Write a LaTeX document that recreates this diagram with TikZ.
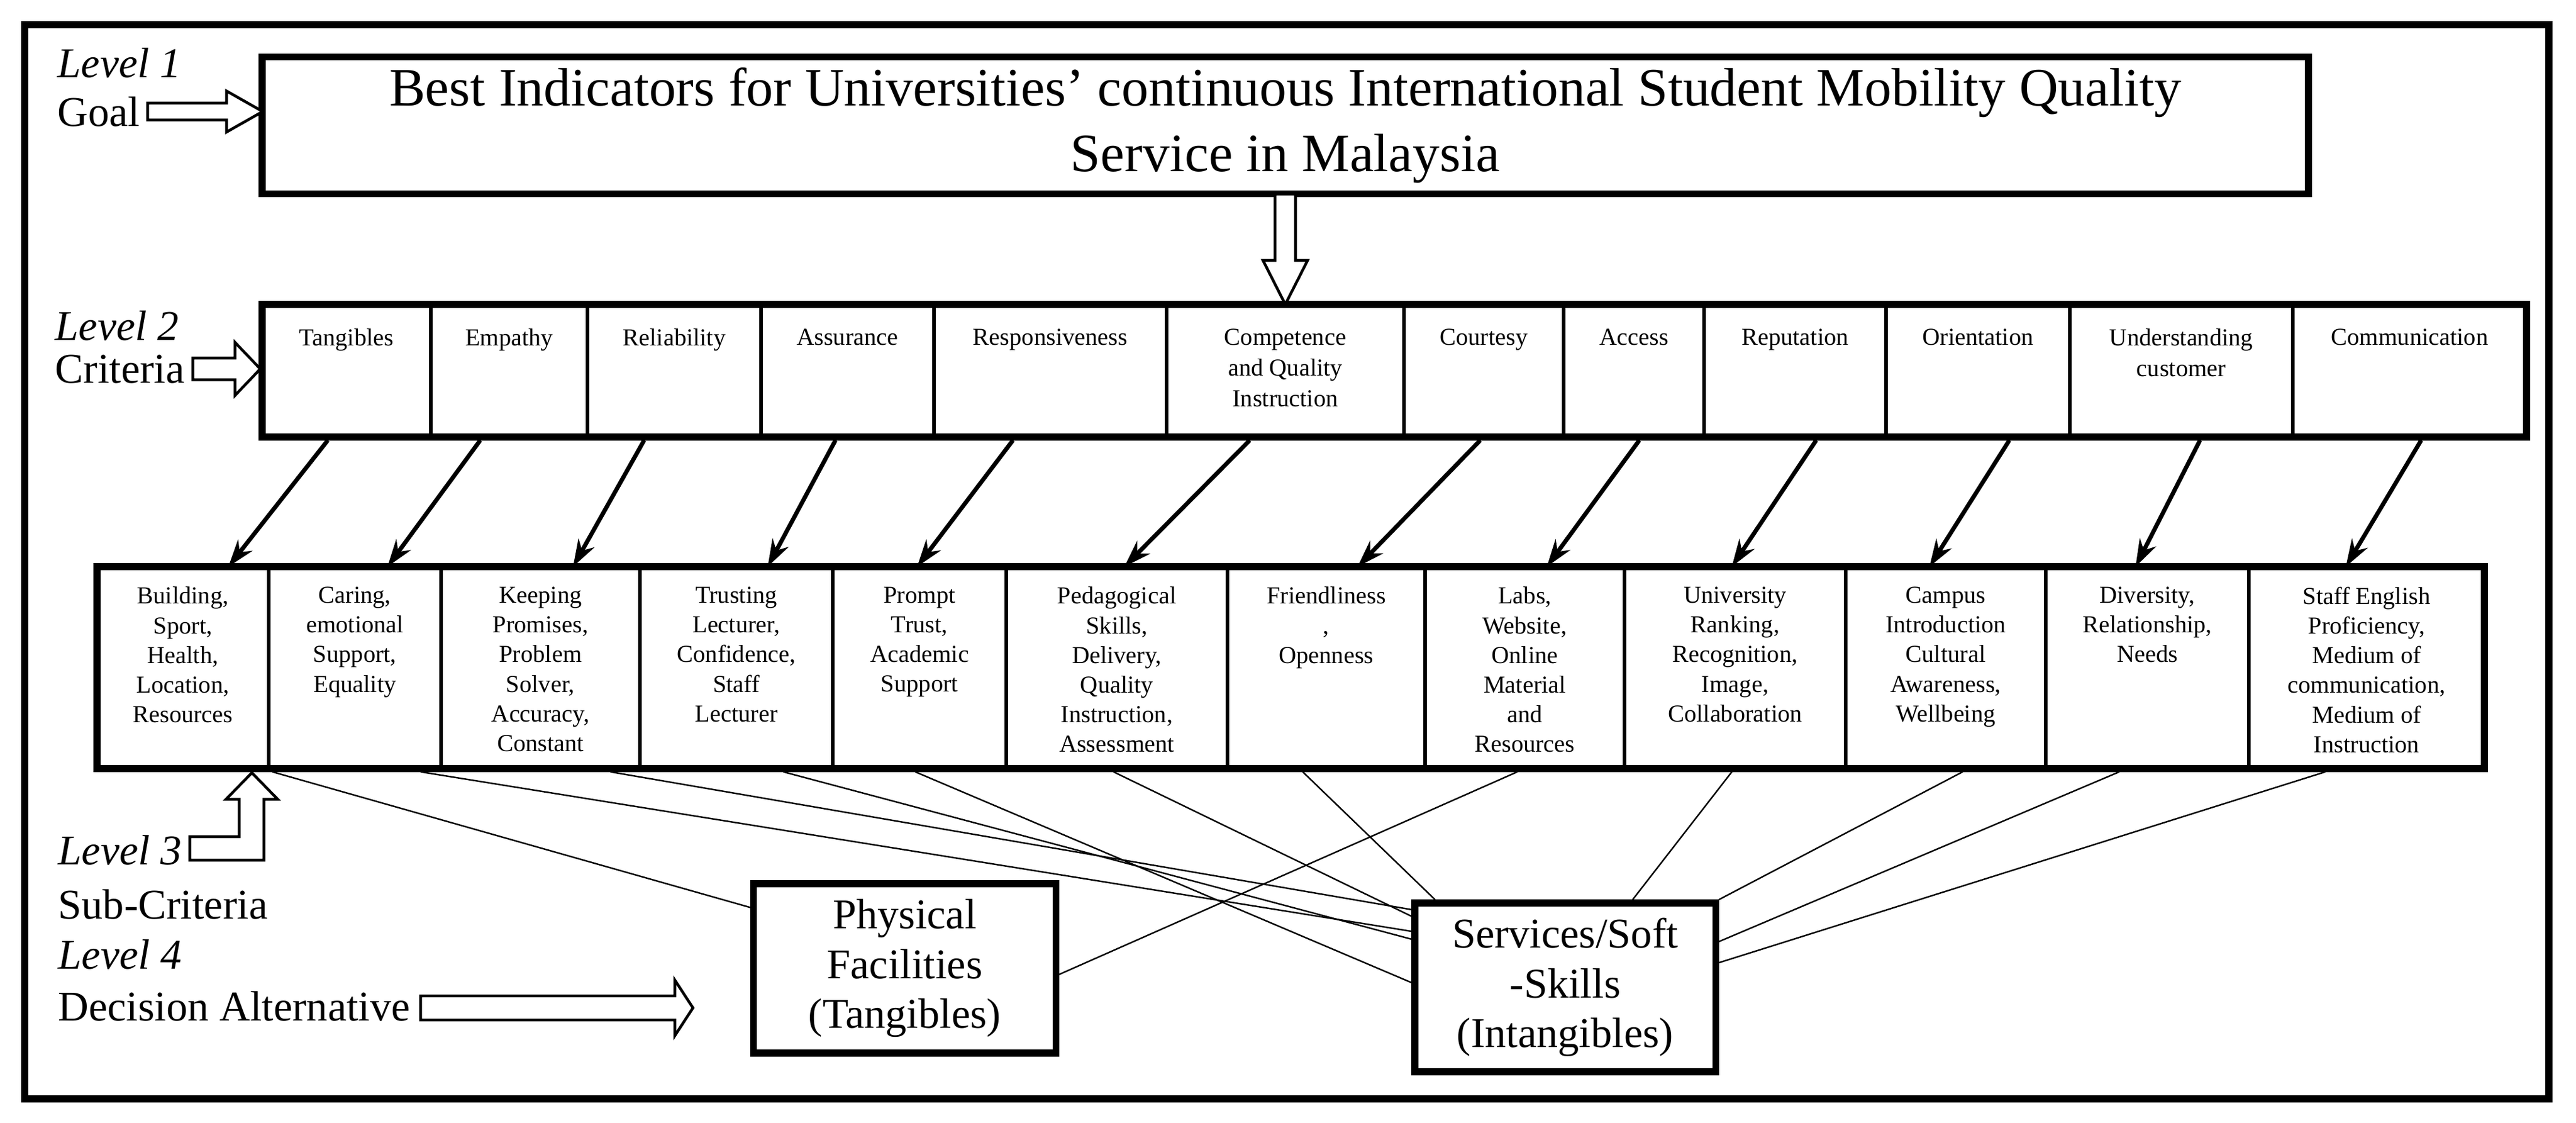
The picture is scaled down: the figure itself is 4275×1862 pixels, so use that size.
\documentclass[tikz,border=0pt]{standalone}
\usepackage{fontspec}
\setmainfont{Liberation Serif}
\usetikzlibrary{arrows.meta}
\newcommand\critcell[4]{\node[cellbox,minimum width={(#3-#2)*0.01cm},minimum height=2.2cm,anchor=north] (#1) at ({(#2+#3)/2},505) {};
\node[crittext,anchor=north] at ([yshift=-0.4cm]#1.north) {#4};}
\newcommand\subcell[4]{\node[cellbox,minimum width={(#3-#2)*0.01cm},minimum height=3.35cm,anchor=north] (#1) at ({(#2+#3)/2},940) {};
\node[subtext,anchor=north] at ([yshift=-0.33cm]#1.north) {#4};}
% hollow right arrow: x1 x2 y halfbody halfhead headlen
\newcommand\hollowR[6]{\draw[harrow] (#1,#3-#4) -- (#2-#6,#3-#4) -- (#2-#6,#3-#5) -- (#2,#3) -- (#2-#6,#3+#5) -- (#2-#6,#3+#4) -- (#1,#3+#4) -- cycle;}
\tikzset{
 cellbox/.style={draw,line width=1.5pt,inner sep=0},
 crittext/.style={inner sep=0,align=center,font=\fontsize{11.5}{14.5}\selectfont},
 subtext/.style={inner sep=0,align=center,font=\fontsize{11.5}{14}\selectfont},
 lvl/.style={anchor=west,inner sep=0,font=\fontsize{20}{24}\selectfont},
 harrow/.style={draw,line width=1.3pt,fill=white},
 carrow/.style={line width=2pt,-{Stealth[length=0.45cm,width=0.3cm]}},
 thinl/.style={line width=0.7pt},
 altbox/.style={draw,line width=3.2pt,align=center,font=\fontsize{20}{23.5}\selectfont},
}
\begin{document}
\begin{tikzpicture}[x=0.01cm,y=-0.01cm]
\useasboundingbox (0,0) rectangle (4275,1862);
\draw[line width=3.6pt] (41,41) rectangle (4230,1823);
% goal
\node[draw,line width=3.2pt,minimum width=33.94cm,minimum height=2.27cm,align=center,font=\fontsize{25.5}{31}\selectfont] (goal) at (2133,208) {Best Indicators for Universities’ continuous International Student Mobility Quality\\Service in Malaysia};
\node[lvl,font=\fontsize{20}{24}\itshape] (l1) at (95,104) {Level 1};
\node[lvl] (g) at (95,185) {Goal};
\hollowR{245}{436}{185}{14}{34}{60}
\draw[harrow] (2133-17,322) -- (2133-17,432) -- (2133-37,432) -- (2133,505) -- (2133+37,432) -- (2133+17,432) -- (2133+17,322) -- cycle;
% criteria
\critcell{c1}{435}{715}{Tangibles}
\critcell{c2}{715}{975}{Empathy}
\critcell{c3}{975}{1263}{Reliability}
\critcell{c4}{1263}{1550}{Assurance}
\critcell{c5}{1550}{1936}{Responsiveness}
\critcell{c6}{1936}{2330}{Competence\\and Quality\\Instruction}
\critcell{c7}{2330}{2595}{Courtesy}
\critcell{c8}{2595}{2828}{Access}
\critcell{c9}{2828}{3130}{Reputation}
\critcell{c10}{3130}{3435}{Orientation}
\critcell{c11}{3435}{3805}{Understanding\\customer}
\critcell{c12}{3805}{4193}{Communication}
\draw[line width=3.2pt] (435,505) rectangle (4193,725);
\node[lvl,font=\fontsize{20}{24}\itshape] (l2) at (91,540) {Level 2};
\node[lvl] (cr) at (91,613) {Criteria};
\hollowR{320}{432}{612}{18}{44}{42}
% sub-criteria
\subcell{s1}{161}{446}{Building,\\Sport,\\Health,\\Location,\\Resources}
\subcell{s2}{446}{732}{Caring,\\emotional\\Support,\\Equality}
\subcell{s3}{732}{1062}{Keeping\\Promises,\\Problem\\Solver,\\Accuracy,\\Constant}
\subcell{s4}{1062}{1382}{Trusting\\Lecturer,\\Confidence,\\Staff\\Lecturer}
\subcell{s5}{1382}{1670}{Prompt\\Trust,\\Academic\\Support}
\subcell{s6}{1670}{2037}{Pedagogical\\Skills,\\Delivery,\\Quality\\Instruction,\\Assessment}
\subcell{s7}{2037}{2365}{Friendliness\\,\\Openness}
\subcell{s8}{2365}{2696}{Labs,\\Website,\\Online\\Material\\and\\Resources}
\subcell{s9}{2696}{3063}{University\\Ranking,\\Recognition,\\Image,\\Collaboration}
\subcell{s10}{3063}{3395}{Campus\\Introduction\\Cultural\\Awareness,\\Wellbeing}
\subcell{s11}{3395}{3732}{Diversity,\\Relationship,\\Needs}
\subcell{s12}{3732}{4123}{Staff English\\Proficiency,\\Medium of\\communication,\\Medium of\\Instruction}
\draw[line width=3.2pt] (161,940) rectangle (4123,1275);
% criteria -> sub arrows
\draw[carrow] ([xshift=-0.31cm]c1.south) -- ([xshift=0.755cm]s1.north);
\draw[carrow] ([xshift=-0.48cm]c2.south) -- ([xshift=0.54cm]s2.north);
\draw[carrow] ([xshift=-0.50cm]c3.south) -- ([xshift=0.54cm]s3.north);
\draw[carrow] ([xshift=-0.20cm]c4.south) -- ([xshift=0.52cm]s4.north);
\draw[carrow] ([xshift=-0.62cm]c5.south) -- ([xshift=-0.04cm]s5.north);
\draw[carrow] ([xshift=-0.59cm]c6.south) -- ([xshift=0.125cm]s6.north);
\draw[carrow] ([xshift=-0.06cm]c7.south) -- ([xshift=0.52cm]s7.north);
\draw[carrow] ([xshift=0.09cm]c8.south) -- ([xshift=0.365cm]s8.north);
\draw[carrow] ([xshift=0.35cm]c9.south) -- ([xshift=-0.055cm]s9.north);
\draw[carrow] ([xshift=0.52cm]c10.south) -- ([xshift=-0.27cm]s10.north);
\draw[carrow] ([xshift=0.31cm]c11.south) -- ([xshift=-0.195cm]s11.north);
\draw[carrow] ([xshift=0.19cm]c12.south) -- ([xshift=-0.345cm]s12.north);
% level 3/4 labels
\node[lvl,font=\fontsize{20}{24}\itshape] (l3) at (96,1410) {Level 3};
\node[lvl] (sc) at (96,1500) {Sub-Criteria};
\node[lvl,font=\fontsize{20}{24}\itshape] (l4) at (96,1583) {Level 4};
\node[lvl] (da2) at (96,1669) {Decision Alternative};
\draw[harrow] (315,1388) -- (397,1388) -- (397,1326) -- (375,1326) -- (418,1282) -- (461,1326) -- (438,1326) -- (438,1427) -- (315,1427) -- cycle;
\hollowR{698}{1150}{1672}{20}{46}{30}
% alternatives
\node[altbox,minimum width=5.01cm,minimum height=2.81cm] (phy) at (1501.5,1606.5) {Physical\\Facilities\\(Tangibles)};
\node[altbox,minimum width=4.99cm,minimum height=2.8cm] (srv) at (2597.5,1638) {Services/Soft\\-Skills\\(Intangibles)};
% sub -> alternatives
\draw[thinl] ([xshift=1.485cm]s1.south) -- ([yshift=1.01cm]phy.west);
\draw[thinl] ([xshift=1.09cm]s2.south) -- ([yshift=0.93cm]srv.west);
\draw[thinl] ([xshift=1.16cm]s3.south) -- ([yshift=1.29cm]srv.west);
\draw[thinl] ([xshift=0.78cm]s4.south) -- ([yshift=0.80cm]srv.west);
\draw[thinl] ([xshift=-0.07cm]s5.south) -- ([yshift=0.08cm]srv.west);
\draw[thinl] ([xshift=-0.055cm]s6.south) -- ([yshift=1.18cm]srv.west);
\draw[thinl] ([xshift=-0.39cm]s7.south) -- ([xshift=-2.16cm]srv.north);
\draw[thinl] ([xshift=-0.125cm]s8.south) -- ([yshift=-0.10cm]phy.east);
\draw[thinl] ([xshift=-0.055cm]s9.south) -- ([xshift=1.12cm]srv.north);
\draw[thinl] ([xshift=0.28cm]s10.south) -- (srv.north east);
\draw[thinl] ([xshift=-0.465cm]s11.south) -- ([yshift=0.76cm]srv.east);
\draw[thinl] ([xshift=-0.685cm]s12.south) -- ([yshift=0.41cm]srv.east);
\end{tikzpicture}
\end{document}
